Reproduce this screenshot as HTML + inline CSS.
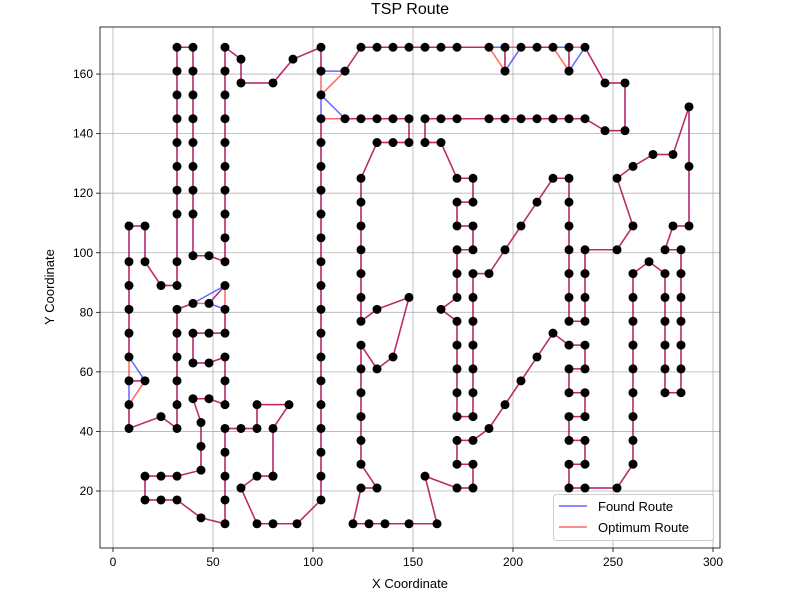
<!DOCTYPE html>
<html><head><meta charset="utf-8"><style>
html,body{margin:0;padding:0;background:#fff;}
svg{display:block;font-family:"Liberation Sans","DejaVu Sans",sans-serif;}
</style></head><body>
<svg id="chart" width="799" height="615" xmlns="http://www.w3.org/2000/svg"></svg>
<script>
const cityX=[288,288,270,256,256,246,236,228,228,220,212,204,196,188,196,188,172,164,156,148,140,148,164,172,156,140,132,124,116,104,104,104,90,80,64,64,56,56,56,56,56,56,56,40,40,40,40,40,40,40,32,32,32,32,32,32,32,32,40,56,56,48,40,32,32,24,16,16,8,8,8,8,8,8,8,16,8,8,24,32,32,32,32,32,32,40,40,40,40,44,44,44,32,24,16,16,24,32,44,56,56,56,56,56,64,72,72,56,48,56,56,48,48,56,56,48,56,56,104,104,104,104,104,104,104,116,124,132,132,140,148,156,164,172,172,172,172,172,172,180,180,180,180,180,172,172,172,172,164,148,124,124,124,124,124,124,104,104,104,104,104,104,104,104,104,92,80,72,64,72,80,80,80,88,104,124,124,132,140,132,124,124,124,124,124,132,124,120,128,136,148,162,156,172,180,180,172,172,172,180,180,188,196,204,212,220,228,228,236,236,236,228,228,236,236,228,228,236,236,228,228,236,252,260,260,260,260,260,260,260,276,276,276,276,284,284,284,284,284,284,284,288,280,276,276,276,268,260,252,260,260,236,228,228,236,236,228,228,228,228,220,212,204,196,188,180,180,180,180,180,196,204,212,220,228,236,246,252,260,280];
const cityY=[149,129,133,141,157,157,169,169,161,169,169,169,169,169,161,145,145,145,145,145,145,169,169,169,169,169,169,169,161,153,161,169,165,157,157,165,169,161,153,145,137,129,121,121,129,137,145,153,161,169,169,161,153,145,137,129,121,113,113,113,105,99,99,97,89,89,97,109,109,97,89,81,73,65,57,57,49,41,45,41,49,57,65,73,81,83,73,63,51,43,35,27,25,25,25,17,17,17,11,9,17,25,33,41,41,41,49,49,51,57,65,63,73,73,81,83,89,97,97,105,113,121,129,137,145,145,145,145,137,137,137,137,137,125,117,109,101,93,85,85,77,69,61,53,53,61,69,77,81,85,85,93,109,125,117,101,89,81,73,65,49,41,33,25,17,9,9,9,21,25,25,25,41,49,57,69,77,81,65,61,61,53,45,37,29,21,21,9,9,9,9,9,25,21,21,29,29,37,45,45,37,41,49,57,65,73,69,77,77,69,61,61,53,53,45,45,37,37,29,29,21,21,21,29,37,45,53,61,69,77,77,69,61,53,53,61,69,77,85,93,101,109,109,101,93,85,97,109,101,93,85,85,85,93,93,101,101,109,117,125,125,117,109,101,93,93,101,109,117,125,145,145,145,145,145,145,141,125,129,133];
const optTour=[1,2,242,243,244,241,240,239,238,237,236,235,234,233,232,231,246,245,247,250,251,230,229,228,227,226,225,224,223,222,221,220,219,218,217,216,215,214,213,212,211,210,207,206,205,204,203,202,201,198,197,196,195,194,193,192,191,190,189,188,187,186,185,184,183,182,181,176,180,179,150,178,177,151,152,156,153,155,154,129,130,131,20,21,128,127,126,125,124,123,122,121,120,119,157,158,159,160,175,161,162,163,164,165,166,167,168,169,170,172,171,173,174,107,106,105,104,103,102,101,100,99,98,97,96,95,94,93,92,91,90,89,109,108,110,111,112,88,87,113,114,115,117,116,86,85,84,83,82,81,80,79,78,77,76,75,74,73,72,71,70,69,68,67,66,65,64,58,57,56,55,54,53,52,51,50,49,48,47,46,45,44,59,63,62,118,61,60,43,42,41,40,39,38,37,36,35,34,33,32,31,30,29,28,27,26,22,25,23,24,14,15,13,12,11,10,9,8,7,6,5,4,277,276,275,274,273,272,271,16,17,18,19,132,133,134,270,269,135,136,268,267,137,138,139,149,148,147,146,145,199,200,141,142,143,144,140,266,265,264,263,262,261,260,259,258,257,254,253,208,209,252,255,256,249,248,278,279,3,280];
const foundTour=[1,2,242,243,244,241,240,239,238,237,236,235,234,233,232,231,246,245,247,250,251,230,229,228,227,226,225,224,223,222,221,220,219,218,217,216,215,214,213,212,211,210,207,206,205,204,203,202,201,198,197,196,195,194,193,192,191,190,189,188,187,186,185,184,183,182,181,176,180,179,150,178,177,151,152,156,153,155,154,129,130,131,20,21,128,127,126,30,125,124,123,122,121,120,119,157,158,159,160,175,161,162,163,164,165,166,167,168,169,170,172,171,173,174,107,106,105,104,103,102,101,100,99,98,97,96,95,94,93,92,91,90,89,109,108,110,111,112,88,87,113,114,115,116,117,86,85,84,83,82,81,80,79,78,77,75,76,74,73,72,71,70,69,68,67,66,65,64,58,57,56,55,54,53,52,51,50,49,48,47,46,45,44,59,63,62,118,61,60,43,42,41,40,39,38,37,36,35,34,33,32,31,29,28,27,26,22,25,23,24,14,13,15,12,11,10,8,9,7,6,5,4,277,276,275,274,273,272,271,16,17,18,19,132,133,134,270,269,135,136,268,267,137,138,139,149,148,147,146,145,199,200,141,142,143,144,140,266,265,264,263,262,261,260,259,258,257,254,253,208,209,252,255,256,249,248,278,279,3,280];
const xTicks=[0,50,100,150,200,250,300];
const yTicks=[20,40,60,80,100,120,140,160];

const NS="http://www.w3.org/2000/svg";
const svg=document.getElementById('chart');
const L=100,R=720,T=27,B=548;
const xMin=-6.5,xMax=303.5,yMin=0.87,yMax=175.8;
function sx(v){return L+(v-xMin)/(xMax-xMin)*(R-L);}
function sy(v){return B-(v-yMin)/(yMax-yMin)*(B-T);}
function mk(tag,attrs,parent){const e=document.createElementNS(NS,tag);for(const k in attrs)e.setAttribute(k,attrs[k]);(parent||svg).appendChild(e);return e;}

let t=mk('text',{x:410,y:14,'text-anchor':'middle','font-size':16});t.textContent='TSP Route';



const grid=mk('g',{});


xTicks.forEach(v=>{
  const x=sx(v);
  mk('line',{x1:x,x2:x,y1:T,y2:B,stroke:'#b0b0b0','stroke-width':0.8},grid);
  mk('line',{x1:x,x2:x,y1:B,y2:B+4,stroke:'#000','stroke-width':0.8});
  const tx=mk('text',{x:x,y:B+18,'text-anchor':'middle','font-size':12});tx.textContent=v;
  
  
});
yTicks.forEach(v=>{
  const y=sy(v);
  mk('line',{x1:L,x2:R,y1:y,y2:y,stroke:'#b0b0b0','stroke-width':0.8},grid);
  mk('line',{x1:L-4,x2:L,y1:y,y2:y,stroke:'#000','stroke-width':0.8});
  const ty=mk('text',{x:L-7,y:y+4,'text-anchor':'end','font-size':12});ty.textContent=v;
  
  
});

function route(tour,color,name){
  const pts=tour.map(i=>sx(cityX[i-1])+','+sy(cityY[i-1]));
  pts.push(pts[0]);
  const p=mk('polyline',{points:pts.join(' '),fill:'none',stroke:color,'stroke-opacity':0.6,'stroke-width':1.5,'stroke-linejoin':'round'});
  
  
}
route(foundTour,'#0000ff','found-route');
route(optTour,'#ff0000','optimum-route');

const cities=mk('g',{});


cityX.forEach((v,i)=>{
  const c=mk('circle',{cx:sx(v),cy:sy(cityY[i]),r:4.5,fill:'#000'},cities);
  
  
});

const frame=mk('rect',{x:L,y:T,width:R-L,height:B-T,fill:'none',stroke:'#000','stroke-width':0.8});



let xl=mk('text',{x:410,y:588,'text-anchor':'middle','font-size':13});xl.textContent='X Coordinate';


let yl=mk('text',{x:0,y:0,'text-anchor':'middle','font-size':13,transform:'translate(54,287) rotate(-90)'});yl.textContent='Y Coordinate';



const lg=mk('g',{});


mk('rect',{x:553.5,y:494.5,width:160,height:46,rx:3,fill:'#fff','fill-opacity':0.8,stroke:'#ccc'},lg);
[['Found Route','#0000ff',0],['Optimum Route','#ff0000',1]].forEach(([lab,col,k])=>{
  const y=506+k*21;
  const ln=mk('line',{x1:559,x2:587,y1:y,y2:y,stroke:col,'stroke-opacity':0.6,'stroke-width':1.5},lg);
  
  
  const tx=mk('text',{x:598,y:y+5,'font-size':13},lg);tx.textContent=lab;
  
  
});
</script>
</body></html>
